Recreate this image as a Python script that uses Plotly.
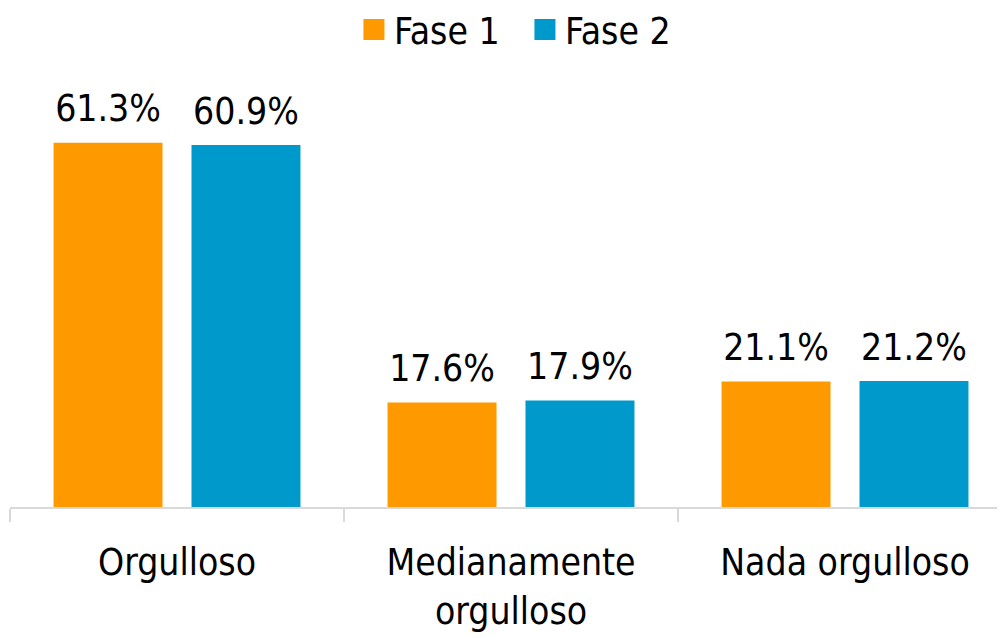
import plotly.graph_objects as go

categories = ["Orgulloso", "Medianamente<br>orgulloso", "Nada orgulloso"]
series_names = ["Fase 1", "Fase 2"]
fase1 = [61.3, 17.6, 21.1]
fase2 = [60.9, 17.9, 21.2]
colors = ["#FF9900", "#0099CC"]

FONT = "DejaVu Sans Condensed"
FS = 37

fig = go.Figure()
for i, (name, vals) in enumerate(zip(series_names, [fase1, fase2])):
    og = f"g{i}"
    fig.add_trace(go.Bar(
        x=categories, y=vals, name=name, marker=dict(color=colors[i], line=dict(width=0)),
        showlegend=False, offsetgroup=og, hoverinfo="skip",
    ))
for i, (name, vals) in enumerate(zip(series_names, [fase1, fase2])):
    og = f"g{i}"
    fig.add_trace(go.Scatter(
        x=categories, y=vals, mode="markers+text", text=[f"{v:.1f}%" for v in vals],
        textposition="top center", textfont=dict(family=FONT, size=FS, color="#000000"),
        marker=dict(size=18, color="rgba(0,0,0,0)"), showlegend=False,
        offsetgroup=og, hoverinfo="skip", cliponaxis=False,
    ))
for i, name in enumerate(series_names):
    fig.add_trace(go.Scatter(
        x=[None], y=[None], mode="markers", name=name,
        marker=dict(symbol="square", size=16, color=colors[i], line=dict(width=5, color=colors[i])),
        offsetgroup=f"g{i}",
    ))

fig.update_layout(
    width=997, height=630,
    margin=dict(l=2, r=0, t=83, b=131, autoexpand=False),
    paper_bgcolor="white", plot_bgcolor="white",
    barmode="group", bargap=0.174, bargroupgap=0.21,
    scattermode="group", scattergap=0.174,
    font=dict(family=FONT, size=FS, color="#000000"),
    legend=dict(orientation="h", xref="container", x=0.5185, xanchor="center",
                yref="container", y=1 - 22 / 630, yanchor="middle",
                font=dict(family=FONT, size=FS, color="#000000"),
                entrywidth=126, entrywidthmode="pixels", itemclick=False),
    xaxis=dict(range=[-0.5, 2.479], showline=True, linecolor="#D9D9D9", linewidth=2,
               ticks="outside", ticklen=13, tickcolor="#D9D9D9", tickwidth=2, tickson="boundaries",
               showgrid=False, zeroline=False, tickfont=dict(family=FONT, size=FS, color="#000000"),
               ticklabelstandoff=22, automargin=False),
    yaxis=dict(range=[0, 70], showgrid=False, zeroline=False, showticklabels=False, showline=False,
               ticks="", automargin=False),
)

fig.write_html("out.html")
